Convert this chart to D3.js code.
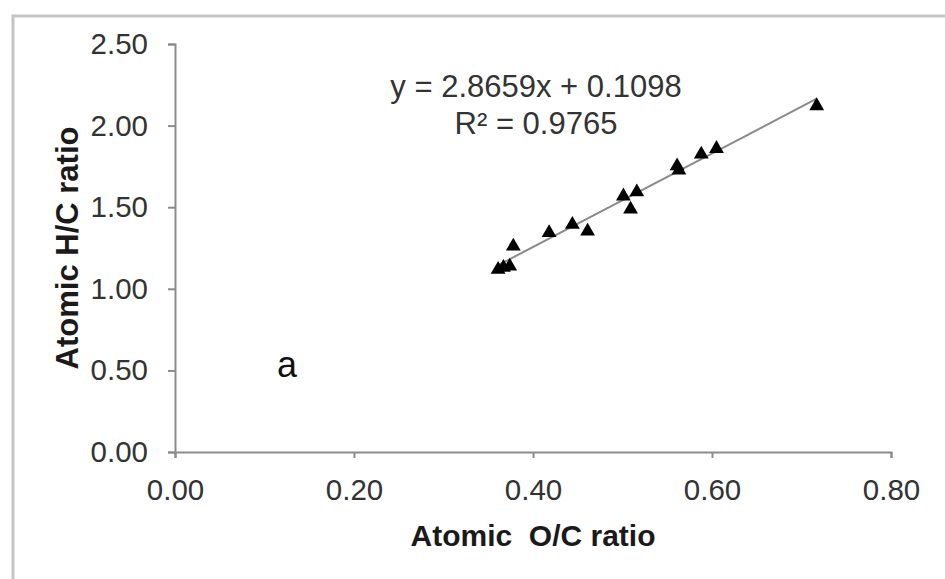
<!DOCTYPE html>
<html>
<head>
<meta charset="utf-8">
<script src="https://cdn.jsdelivr.net/npm/d3@7"></script>
<style>
  html, body { margin: 0; padding: 0; background: #fff; }
  svg { display: block; }
  text { font-family: "Liberation Sans", Arial, sans-serif; }
</style>
</head>
<body>
<svg id="chart" width="945" height="579"></svg>
<script>
// ---- data ----
const ocRatio = [0.361, 0.367, 0.374, 0.378, 0.418, 0.444, 0.461, 0.501, 0.509, 0.516, 0.561, 0.563, 0.588, 0.605, 0.717];
const hcRatio = [1.118, 1.130, 1.138, 1.261, 1.343, 1.394, 1.353, 1.568, 1.487, 1.593, 1.752, 1.726, 1.824, 1.859, 2.121];
const xTicks = [0.00, 0.20, 0.40, 0.60, 0.80];
const yTicks = [0.00, 0.50, 1.00, 1.50, 2.00, 2.50];
const slope = 2.8659;
const intercept = 0.1098;
const rSquared = 0.9765;
const xTitle = "Atomic  O/C ratio";
const yTitle = "Atomic H/C ratio";
const panelLabel = "a";

const svg = d3.select("#chart");

// chart area border (Excel-like)
svg.append("path")
  .attr("d", "M13,579 L13,16 L945,16")
  .attr("fill", "none")
  .attr("stroke", "#c4c4c4")
  .attr("stroke-width", 3);

const x = d3.scaleLinear().domain([0, 0.8]).range([175, 891]);
const y = d3.scaleLinear().domain([0, 2.5]).range([452, 44]);

const axisColor = "#8c8c8c";
const labelColor = "#333333";

// x axis
const gx = svg.append("g").attr("transform", `translate(0,${y(0)})`)
  .call(d3.axisBottom(x).tickValues(xTicks).tickFormat(d3.format(".2f"))
    .tickSizeOuter(0).tickSize(6).tickPadding(21));
// y axis
const gy = svg.append("g").attr("transform", `translate(${x(0)},0)`)
  .call(d3.axisLeft(y).tickValues(yTicks).tickFormat(d3.format(".2f"))
    .tickSizeOuter(0).tickSize(7).tickPadding(20));

[gx, gy].forEach(g => {
  g.select(".domain").attr("stroke", axisColor).attr("stroke-width", 2);
  g.selectAll(".tick line").attr("stroke", axisColor).attr("stroke-width", 2);
  g.selectAll(".tick text")
    .attr("fill", labelColor)
    .style("font-size", "29.5px")
    .style("font-family", "'Liberation Sans', Arial, sans-serif");
});

// trendline over data extent
const xExt = d3.extent(ocRatio);
svg.append("line")
  .attr("x1", x(xExt[0])).attr("y1", y(slope * xExt[0] + intercept))
  .attr("x2", x(xExt[1])).attr("y2", y(slope * xExt[1] + intercept))
  .attr("stroke", "#8a8a8a")
  .attr("stroke-width", 2);

// points
const pts = ocRatio.map((v, i) => ({ x: v, y: hcRatio[i] }));
svg.append("g").selectAll("path")
  .data(pts)
  .join("path")
  .attr("transform", d => `translate(${x(d.x)},${y(d.y)})`)
  .attr("d", d3.symbol().type(d3.symbolTriangle).size(95))
  .attr("fill", "#000");

// equation
svg.append("text")
  .attr("x", 536).attr("y", 97)
  .attr("text-anchor", "middle")
  .attr("fill", labelColor)
  .style("font-size", "31px")
  .text(`y = ${slope.toFixed(4)}x + ${intercept.toFixed(4)}`);
svg.append("text")
  .attr("x", 536).attr("y", 134)
  .attr("text-anchor", "middle")
  .attr("fill", labelColor)
  .style("font-size", "31px")
  .text(`R² = ${rSquared.toFixed(4)}`);

// panel label
svg.append("text")
  .attr("x", 287).attr("y", 377)
  .attr("text-anchor", "middle")
  .attr("fill", "#111")
  .style("font-size", "36px")
  .text(panelLabel);

// axis titles
svg.append("text")
  .attr("x", (x(0) + x(0.8)) / 2).attr("y", 546)
  .attr("text-anchor", "middle")
  .attr("fill", "#1a1a1a")
  .style("font-size", "30px")
  .style("font-weight", "bold")
  .style("white-space", "pre")
  .text(xTitle);
svg.append("text")
  .attr("transform", `translate(78,${(y(0) + y(2.5)) / 2}) rotate(-90)`)
  .attr("text-anchor", "middle")
  .attr("fill", "#1a1a1a")
  .style("font-size", "31px")
  .style("font-weight", "bold")
  .text(yTitle);
</script>
</body>
</html>
